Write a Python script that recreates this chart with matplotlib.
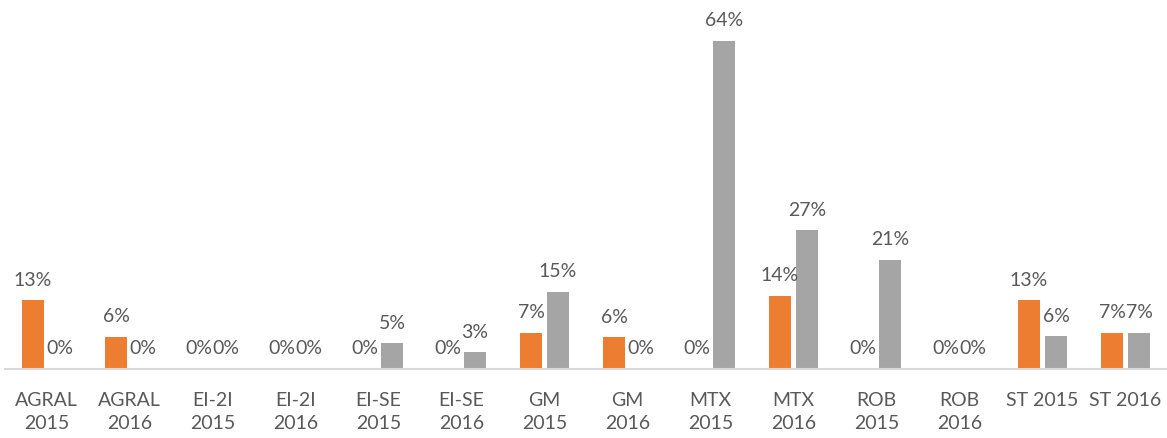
import matplotlib
matplotlib.use("Agg")
import matplotlib.pyplot as plt
import numpy as np

categories = ["AGRAL\n2015", "AGRAL\n2016", "EI-2I\n2015", "EI-2I\n2016",
              "EI-SE\n2015", "EI-SE\n2016", "GM\n2015", "GM\n2016",
              "MTX\n2015", "MTX\n2016", "ROB\n2015", "ROB\n2016",
              "ST 2015", "ST 2016"]
orange_vals = [13.4, 6.3, 0, 0, 0, 0, 7.1, 6.2, 0, 14.3, 0, 0, 13.4, 7.1]
gray_vals = [0, 0, 0, 0, 5.0, 3.3, 15.1, 0, 64.0, 27.1, 21.3, 0, 6.4, 7.1]

plt.rcParams['font.family'] = ['Lato', 'DejaVu Sans']
txt = '#595959'

fig = plt.figure(figsize=(11.67, 4.39), dpi=100)
ax = fig.add_axes([5 / 1167, 1 - 370 / 439, 1 - 5 / 1167, (370 - 11.25) / 439])

x = np.arange(len(categories))
w = 0.27
off = 0.163
b1 = ax.bar(x - off, orange_vals, w, color='#ED7D31')
b2 = ax.bar(x + off, gray_vals, w, color='#A5A5A5')

for bars, vals in ((b1, orange_vals), (b2, gray_vals)):
    for rect, v in zip(bars, vals):
        ax.annotate(f"{round(v):.0f}%", (rect.get_x() + rect.get_width() / 2, v),
                    xytext=(0, 9), textcoords='offset points',
                    ha='center', va='bottom', fontsize=14, color=txt)

ax.set_xlim(-0.5, len(categories) - 0.5)
ax.set_ylim(0, 70)
ax.set_xticks(x)
ax.set_xticklabels(categories, fontsize=14, color=txt, linespacing=1.4, va='top')
ax.tick_params(axis='x', length=0, pad=16)
ax.set_yticks([])
for s in ('left', 'right', 'top'):
    ax.spines[s].set_visible(False)
ax.spines['bottom'].set_color('#D9D9D9')
ax.spines['bottom'].set_linewidth(1.5)

fig.savefig('out.png', dpi=100)
